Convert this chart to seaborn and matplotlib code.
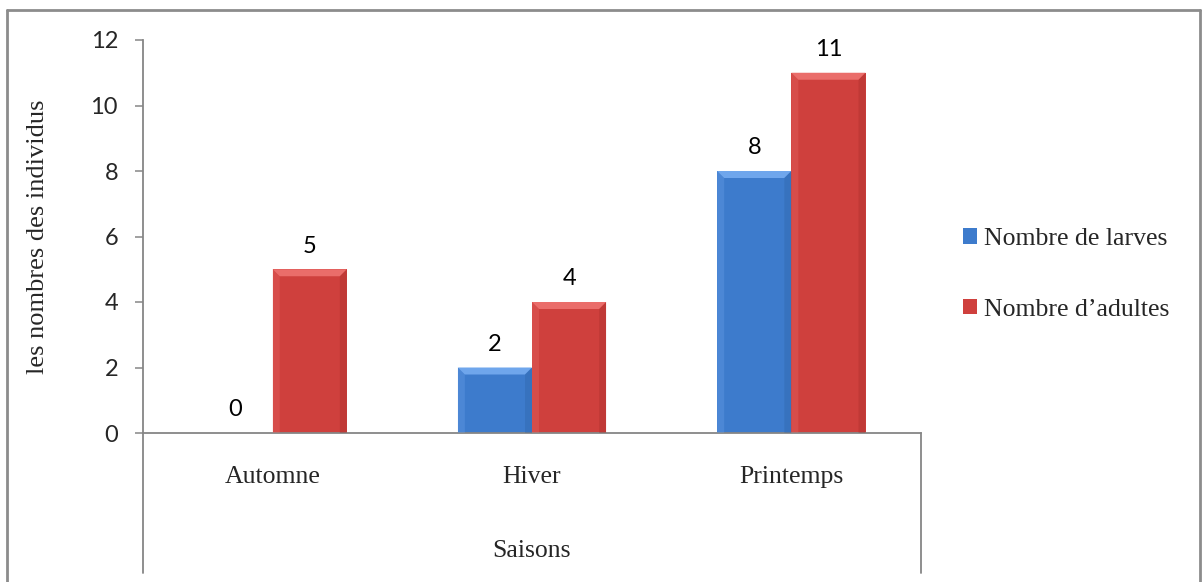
import matplotlib
matplotlib.use("Agg")
import matplotlib.pyplot as plt
from matplotlib.patches import Polygon
from matplotlib.lines import Line2D
import seaborn as sns
import pandas as pd

# Data
saisons = ["Automne", "Hiver", "Printemps"]
larves = [0, 2, 8]
adultes = [5, 4, 11]
series_names = ["Nombre de larves", "Nombre d\u2019adultes"]
y_ticks = [0, 2, 4, 6, 8, 10, 12]

df = pd.DataFrame({
    "Saison": saisons * 2,
    "Valeur": larves + adultes,
    "Série": [series_names[0]] * 3 + [series_names[1]] * 3,
})

sns.set_theme(style="white")
serif = "Liberation Serif"
sans = "Lato"

W, H = 1203, 582
fig = plt.figure(figsize=(W / 100, H / 100), dpi=100)
ax = fig.add_axes([143 / W, 1 - 433 / H, (921 - 143) / W, (433 - 40) / H])

blue, red = "#3d7bcc", "#cf403d"
sns.barplot(data=df, x="Saison", y="Valeur", hue="Série", order=saisons,
            hue_order=series_names, palette=[blue, red], width=0.572,
            saturation=1, ax=ax, legend=False, linewidth=0)

ax.set_ylim(0, 12)
ax.set_xlim(-0.5, 2.5)
ax.set_yticks(y_ticks)
ax.set_yticklabels([str(t) for t in y_ticks], fontfamily=sans, fontsize=17)
ax.set_xticks(range(len(saisons)))
ax.set_xticklabels(saisons, fontfamily=serif, fontsize=18.5)
ax.tick_params(axis="y", length=6, width=1.1, color="#868686", pad=12, left=True)
ax.tick_params(axis="x", length=0, pad=24)
for s in ["top", "right"]:
    ax.spines[s].set_visible(False)
for s in ["left", "bottom"]:
    ax.spines[s].set_color("#868686")
    ax.spines[s].set_linewidth(1.3)
ax.set_xlabel("Saisons", fontfamily=serif, fontsize=18.5, labelpad=37)
ax.set_ylabel("les nombres des individus", fontfamily=serif, fontsize=19, labelpad=30)

# Bevel shading on each bar, built from the bar geometry
fig.canvas.draw()
bbox = ax.get_window_extent()
px_x = (ax.get_xlim()[1] - ax.get_xlim()[0]) / bbox.width
px_y = (ax.get_ylim()[1] - ax.get_ylim()[0]) / bbox.height
bev = 7
light = {blue: "#6fa6ec", red: "#ea6d6a"}
dark = {blue: "#2c5f9e", red: "#9e2a28"}
for bar in ax.patches:
    h = bar.get_height()
    if h <= 0:
        continue
    x0, w = bar.get_x(), bar.get_width()
    fc = matplotlib.colors.to_hex(bar.get_facecolor())
    bx, by = bev * px_x, bev * px_y
    top = Polygon([(x0, h), (x0 + w, h), (x0 + w - bx, h - by), (x0 + bx, h - by)],
                  closed=True, facecolor=light.get(fc, fc), edgecolor="none", zorder=3)
    left = Polygon([(x0, 0), (x0, h), (x0 + bx, h - by), (x0 + bx, 0)],
                   closed=True, facecolor=light.get(fc, fc), alpha=0.3,
                   edgecolor="none", zorder=3)
    right = Polygon([(x0 + w, 0), (x0 + w, h), (x0 + w - bx, h - by), (x0 + w - bx, 0)],
                    closed=True, facecolor=dark.get(fc, fc), alpha=0.3,
                    edgecolor="none", zorder=3)
    for p in (top, left, right):
        ax.add_patch(p)

# Value labels above each bar
for i, s in enumerate(saisons):
    for j, (name, vals) in enumerate(zip(series_names, [larves, adultes])):
        xpos = i + (j - 0.5) * 0.286
        ax.annotate(str(vals[i]), (xpos, vals[i]), xytext=(0, 12),
                    textcoords="offset points", ha="center", va="baseline",
                    fontfamily=sans, fontsize=17, color="black")

# Category box lines below the axis
for xa in (0, 1):
    ax.add_line(Line2D([xa, xa], [0, -140 / 393], transform=ax.transAxes,
                       color="#868686", lw=1.3, clip_on=False))

# Legend
handles = [plt.Rectangle((0, 0), 1, 1, facecolor=c, edgecolor="none") for c in (blue, red)]
leg = fig.legend(handles, series_names, loc="upper left",
                 bbox_to_anchor=(963 / W, 1 - 228 / H), frameon=False,
                 prop={"family": serif, "size": 18.5}, handlelength=0.55,
                 handleheight=0.55, handletextpad=0.25, labelspacing=1.9,
                 borderaxespad=0, borderpad=0)

# Outer chart frame
for xs, ys in [([7 / W, 7 / W], [0, 1 - 10 / H]),
               ([7 / W, 1200 / W], [1 - 10 / H, 1 - 10 / H]),
               ([1200 / W, 1200 / W], [1 - 10 / H, 0])]:
    fig.add_artist(Line2D(xs, ys, transform=fig.transFigure, color="#8c8c8c", lw=2))

fig.savefig("out.png", dpi=100)
